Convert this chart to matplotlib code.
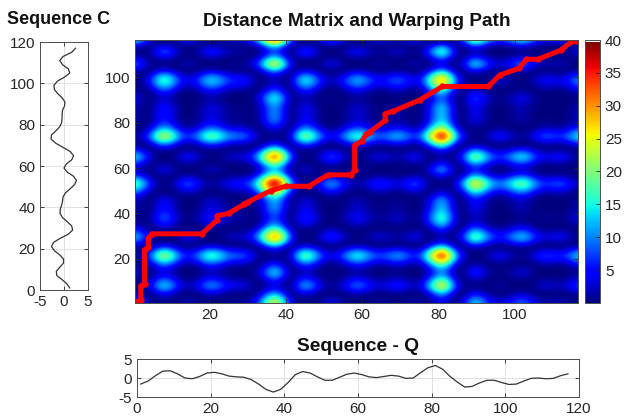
import numpy as np
import matplotlib
matplotlib.use("Agg")
import matplotlib.pyplot as plt

plt.rcParams['font.family'] = ['Liberation Sans', 'DejaVu Sans']

# sample positions (every second index)
idx = np.arange(1, 118, 2)

# Sequence C values at idx
C = [1.2, 0.6, -0.4, -1.5, -1.6, -0.9, -0.1, -0.1, -0.9, -2.0,
     -2.6, -2.2, -0.8, 0.9, 1.8, 1.6, 0.7, -0.3, -0.8, -0.8,
     -0.5, -0.3, -0.2, 0.3, 1.3, 2.2, 2.6, 2.0, 0.7, 0.0,
     0.5, 1.6, 2.0, 1.3, -0.2, -1.7, -2.7, -2.6, -1.7, -0.9,
     -0.5, -0.4, -0.4, -0.3, 0.1, 0.2, -0.4, -1.3, -2.0, -2.1,
     -1.4, 0.1, 1.2, 0.9, -0.3, -0.9, -0.2, 1.6, 2.4]

# Sequence Q values at idx
Q = [-1.6, -0.8, 0.6, 1.8, 1.9, 1.1, 0.0, -0.2, 0.4, 1.3,
     1.5, 1.1, 0.5, 0.3, 0.2, -0.4, -1.6, -3.0, -3.7, -3.0,
     -1.2, 0.9, 1.7, 1.3, 0.3, -0.6, -0.6, 0.2, 1.0, 1.3,
     0.9, 0.3, 0.1, 0.4, 0.7, 0.5, -0.1, 0.0, 1.4, 2.7,
     3.3, 2.3, 0.4, -1.1, -2.4, -2.2, -1.3, -0.6, -0.6, -1.2,
     -1.7, -1.6, -0.8, -0.1, 0.0, -0.2, -0.1, 0.6, 1.1]

# warping path vertices (Q index, C index)
path_x = [1, 2, 2, 3, 3, 4, 4, 5, 18, 22, 22, 25, 29, 30, 36, 40, 46, 51, 57,
          58, 58, 60, 61, 62, 66, 66, 68, 75, 81, 93, 96, 101, 103, 106, 112, 115, 116]
path_y = [1, 2, 8, 9, 24, 25, 29, 31, 31, 37, 39, 40, 44, 45, 50, 52, 52, 57, 57,
          59, 70, 72, 75, 76, 81, 84, 85, 90, 96, 96, 101, 104, 108, 108, 112, 116, 116]

Carr = np.array(C)
Qarr = np.array(Q)
D = (Carr[:, None] - Qarr[None, :]) ** 2

W, H = 629, 419
fig = plt.figure(figsize=(W / 100, H / 100), dpi=100)

def fr(l, t, r, b):
    return [l / W, 1 - b / H, (r - l) / W, (b - t) / H]

spine_col = '#4d4d4d'
tick_col = '#262626'
line_col = '#333333'
grid_col = '#dcdcdc'
fs = 11

def style(ax):
    for s in ax.spines.values():
        s.set_color(spine_col)
        s.set_linewidth(0.7)
    ax.tick_params(direction='in', colors=tick_col, labelsize=fs, length=3,
                   top=True, right=True, width=0.6)

# main matrix axes
axM = fig.add_axes(fr(135, 40, 578, 303))
step = idx[1] - idx[0]
im = axM.imshow(D, origin='lower', cmap='jet', interpolation='bicubic',
                extent=[idx[0] - step / 2, idx[-1] + step / 2,
                        idx[0] - step / 2, idx[-1] + step / 2],
                aspect='auto', vmin=0, vmax=D.max())
axM.plot(path_x, path_y, color='#ff0000', lw=3.6, solid_capstyle='round',
         solid_joinstyle='round', marker='o', ms=3.5)
axM.set_xlim(0.5, 116.5)
axM.set_ylim(0.5, 116.5)
axM.set_xticks([20, 40, 60, 80, 100])
axM.set_yticks([20, 40, 60, 80, 100])
style(axM)

# colorbar
cax = fig.add_axes(fr(585, 40, 600, 303))
cb = fig.colorbar(im, cax=cax)
cb.set_ticks([5, 10, 15, 20, 25, 30, 35, 40])
cb.outline.set_edgecolor(spine_col)
cb.outline.set_linewidth(0.7)
cax.tick_params(direction='in', colors=tick_col, labelsize=fs, length=3, width=0.6)

# sequence C axes
axC = fig.add_axes(fr(40, 42, 88, 290))
axC.plot(Carr, idx, color=line_col, lw=0.9)
axC.set_xlim(-5, 5)
axC.set_ylim(0, 120)
axC.set_xticks([-5, 0, 5])
axC.set_xticklabels(['-5', '0', '5'])
axC.set_yticks(np.arange(0, 121, 20))
axC.grid(True, color=grid_col, lw=0.6)
style(axC)

# sequence Q axes
axQ = fig.add_axes(fr(137, 359, 579, 397))
axQ.plot(idx, Qarr, color=line_col, lw=0.9)
axQ.set_xlim(0, 120)
axQ.set_ylim(-5, 5)
axQ.set_yticks([-5, 0, 5])
axQ.set_yticklabels(['-5', '0', '5'])
axQ.set_xticks(np.arange(0, 121, 20))
axQ.grid(True, color=grid_col, lw=0.6)
style(axQ)

fig.text(59 / W, 1 - 19 / H, 'Sequence C', ha='center', va='center',
         fontsize=13, fontweight='bold', color='#111111')
fig.text(357 / W, 1 - 21 / H, 'Distance Matrix and Warping Path', ha='center',
         va='center', fontsize=13.8, fontweight='bold', color='#111111')
fig.text(358 / W, 1 - 346 / H, 'Sequence - Q', ha='center', va='center',
         fontsize=13.8, fontweight='bold', color='#111111')

fig.savefig('out.png', dpi=100)
